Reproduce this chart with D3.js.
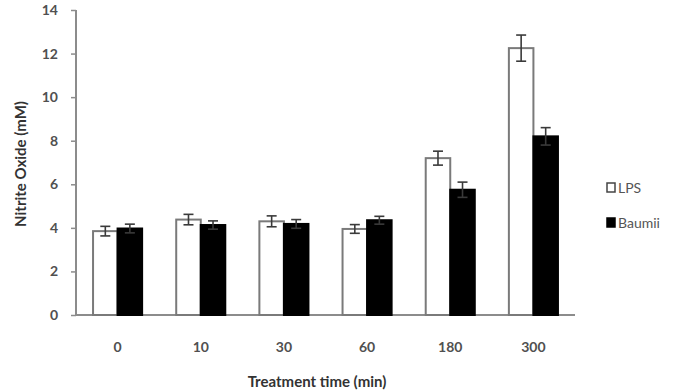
<!DOCTYPE html>
<html>
<head>
<meta charset="utf-8">
<script src="https://cdn.jsdelivr.net/npm/d3@7"></script>
<style>
    body { margin: 0; background: #fff; }
    text { font-family: Lato, "Open Sans", sans-serif; }
</style>
</head>
<body>
<div id="the_chart"></div>
<script>
var categories = ["0", "10", "30", "60", "180", "300"];
var lps = [3.85, 4.38, 4.3, 3.95, 7.2, 12.25];
var lpsErr = [0.22, 0.24, 0.25, 0.2, 0.32, 0.6];
var baumii = [3.97, 4.13, 4.18, 4.35, 5.75, 8.2];
var baumiiErr = [0.2, 0.19, 0.2, 0.18, 0.35, 0.4];
var yTicks = [0, 2, 4, 6, 8, 10, 12, 14];
var seriesNames = ["LPS", "Baumii"];

var w = 688;
var h = 392;

var svg = d3.select("#the_chart")
    .append("svg")
    .attr("width", w)
    .attr("height", h);

var yscale = d3.scaleLinear()
    .domain([0, 14])
    .range([315, 10]);

var xscale = d3.scaleBand()
    .domain(categories)
    .range([76, 575])
    .paddingInner(0.41)
    .paddingOuter(0.205);

var inner = d3.scaleBand()
    .domain(seriesNames)
    .range([0, xscale.bandwidth()]);

var yaxis = d3.axisLeft(yscale)
    .tickValues(yTicks)
    .tickSize(5)
    .tickPadding(13);

var gY = svg.append("g")
    .attr("transform", "translate(76,0)")
    .call(yaxis);

var xaxis = d3.axisBottom(xscale)
    .tickSize(0)
    .tickPadding(27);

var gX = svg.append("g")
    .attr("transform", "translate(0,315)")
    .call(xaxis);

[gY, gX].forEach(function (g) {
    g.select(".domain").attr("stroke", "#8c8c8c").attr("stroke-width", 2);
    g.selectAll(".tick line").attr("stroke", "#8c8c8c").attr("stroke-width", 1.5);
    g.selectAll(".tick text")
        .attr("fill", "#505050")
        .attr("font-size", 14)
        .attr("font-weight", "bold")
        .style("font-family", "Lato, sans-serif");
});
gX.select(".domain").attr("d", "M76,0H575");
gY.select(".domain").attr("d", "M0,10V315");

var rows = categories.map(function (c, i) {
    return [
        { cat: c, name: "LPS", v: lps[i], e: lpsErr[i] },
        { cat: c, name: "Baumii", v: baumii[i], e: baumiiErr[i] }
    ];
});

var groups = svg.selectAll("g.grp")
    .data(rows)
    .enter().append("g")
    .attr("class", "grp")
    .attr("transform", function (d) {
        return "translate(" + xscale(d[0].cat) + ",0)";
    });

groups.selectAll("rect")
    .data(function (d) { return d; })
    .enter().append("rect")
    .attr("x", function (d) { return inner(d.name); })
    .attr("y", function (d) { return yscale(d.v); })
    .attr("width", inner.bandwidth())
    .attr("height", function (d) { return yscale(0) - yscale(d.v); })
    .attr("fill", function (d) { return d.name == "LPS" ? "#fff" : "#000"; })
    .attr("stroke", function (d) { return d.name == "LPS" ? "#7a7a7a" : "#000"; })
    .attr("stroke-width", 2);

var cap = 5;
var errs = groups.selectAll("g.err")
    .data(function (d) { return d; })
    .enter().append("g")
    .attr("class", "err")
    .attr("stroke", "#3a3a3a")
    .attr("stroke-width", 1.6);

errs.append("line")
    .attr("x1", function (d) { return inner(d.name) + inner.bandwidth() / 2; })
    .attr("x2", function (d) { return inner(d.name) + inner.bandwidth() / 2; })
    .attr("y1", function (d) { return yscale(d.v + d.e); })
    .attr("y2", function (d) { return yscale(d.v - d.e); });

errs.selectAll("line.cap")
    .data(function (d) { return [d.v + d.e, d.v - d.e].map(function (y) { return { name: d.name, y: y }; }); })
    .enter().append("line")
    .attr("class", "cap")
    .attr("x1", function (d) { return inner(d.name) + inner.bandwidth() / 2 - cap; })
    .attr("x2", function (d) { return inner(d.name) + inner.bandwidth() / 2 + cap; })
    .attr("y1", function (d) { return yscale(d.y); })
    .attr("y2", function (d) { return yscale(d.y); });

// axis titles
svg.append("text")
    .attr("transform", "translate(26,164) rotate(-90)")
    .attr("text-anchor", "middle")
    .attr("font-size", 15)
    .attr("font-weight", "bold")
    .attr("fill", "#333")
    .text("Nitrite Oxide (mM)");

svg.append("text")
    .attr("x", 317)
    .attr("y", 387)
    .attr("text-anchor", "middle")
    .attr("font-size", 15)
    .attr("font-weight", "bold")
    .attr("fill", "#333")
    .text("Treatment time (min)");

// legend
var legend = svg.selectAll("g.leg")
    .data(seriesNames)
    .enter().append("g")
    .attr("class", "leg")
    .attr("transform", function (d, i) { return "translate(607," + (183 + i * 35) + ")"; });

legend.append("rect")
    .attr("width", 8)
    .attr("height", 9)
    .attr("fill", function (d) { return d == "LPS" ? "#fff" : "#000"; })
    .attr("stroke", function (d) { return d == "LPS" ? "#444" : "#000"; })
    .attr("stroke-width", 1.5);

legend.append("text")
    .attr("x", 11)
    .attr("y", 10)
    .attr("font-size", 14)
    .attr("fill", "#555")
    .text(function (d) { return d; });
</script>
</body>
</html>
